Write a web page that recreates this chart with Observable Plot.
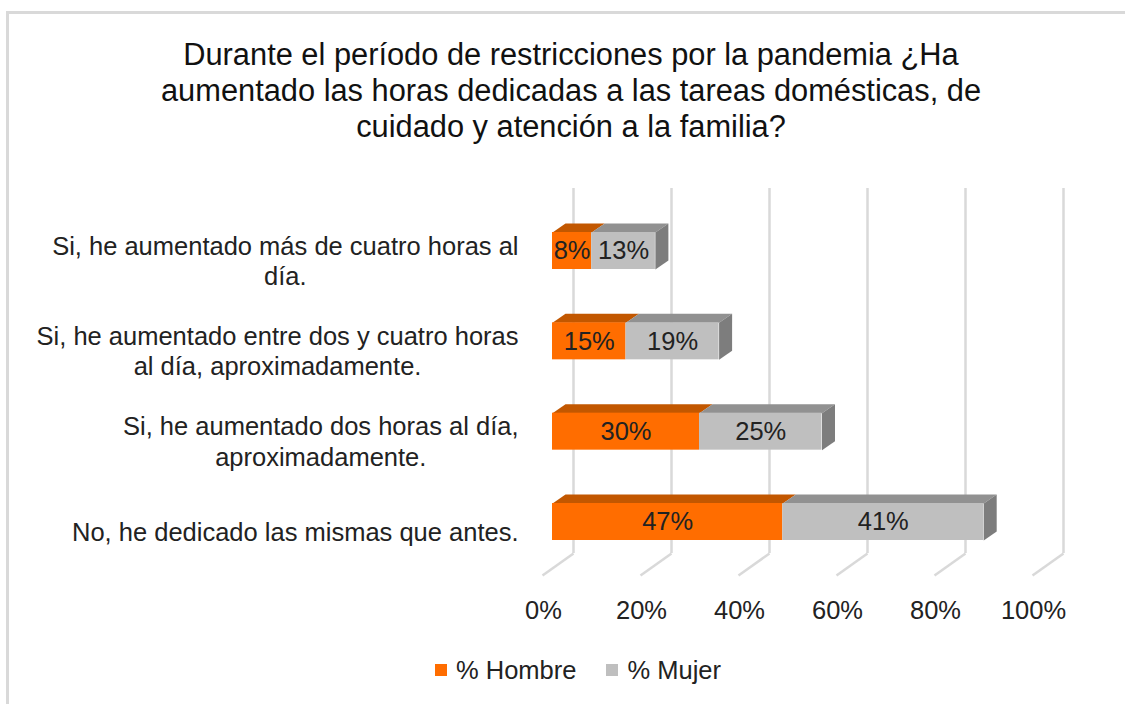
<!DOCTYPE html>
<html>
<head>
<meta charset="utf-8">
<script src="https://cdn.jsdelivr.net/npm/d3@7"></script>
<script src="https://cdn.jsdelivr.net/npm/@observablehq/plot@0.6"></script>
<style>
html, body { margin: 0; padding: 0; background: #fff; overflow: hidden; width: 1125px; height: 704px; }
#wrap { position: relative; width: 1125px; height: 704px; font-family: "Liberation Sans", Arial, sans-serif; color: #222; }
#border { position: absolute; left: 6px; top: 11px; width: 1200px; height: 800px; border-left: 3px solid #d9d9d9; border-top: 3px solid #d9d9d9; }
#chart { position: absolute; left: 0; top: 0; }
#title { position: absolute; left: 0; width: 1142px; top: 37px; text-align: center; font-size: 30.8px; line-height: 36px; color: #111; }
#legend { position: absolute; left: 435px; top: 655px; display: flex; align-items: center; font-size: 25.5px; line-height: 30px; }
#legend .item { display: flex; align-items: center; margin-right: 30px; }
#legend .sw { width: 12px; height: 12px; margin-right: 9px; }
</style>
</head>
<body>
<div id="wrap">
  <div id="border"></div>
  <div id="chart"></div>
  <div id="title">Durante el período de restricciones por la pandemia ¿Ha<br>aumentado las horas dedicadas a las tareas domésticas, de<br>cuidado y atención a la familia?</div>
  <div id="legend"></div>
</div>
<script>
// ---- data ----
const categories = [
  "Si, he aumentado más de cuatro horas al\ndía.",
  "Si, he aumentado entre dos y cuatro horas\nal día, aproximadamente.",
  "Si, he aumentado dos horas al día,\naproximadamente.",
  "No, he dedicado las mismas que antes."
];
const series = ["% Hombre", "% Mujer"];
const hombre = [0.08, 0.15, 0.30, 0.47];
const mujer = [0.13, 0.19, 0.25, 0.41];
const xTicks = [0, 0.2, 0.4, 0.6, 0.8, 1];

// ---- style ----
const frontColors = ["#FF6D00", "#BFBFBF"];
const topColors = ["#C25700", "#919191"];
const sideColors = ["#A04800", "#7D7D7D"];
const gridColor = "#d9d9d9";
const textColor = "#222";
const FS = 25.5;

// ---- geometry (pixel frame) ----
const X0 = 552, X1 = 1042, Y0 = 250.5, Y3 = 521.5;
const KX = (X1 - X0) / 1, KY = (Y3 - Y0) / 3;
const dxU = px => px / KX;
const dyU = px => px / KY;
const yAt = py => (py - Y0) / KY;
const HY = dyU(18.5);       // half bar height
const DX = dxU(13), DY = dyU(9); // bar depth
const values = [hombre, mujer];

const segs = [];
categories.forEach((c, i) => {
  let cum = 0;
  values.forEach((arr, s) => {
    const v = arr[i];
    segs.push({i, s, x1: cum, x2: cum + v, v});
    cum += v;
  });
});

const topVerts = [];
const sideVerts = [];
segs.forEach((d, k) => {
  const t = d.i - HY, b = d.i + HY;
  [[d.x1, t], [d.x2, t], [d.x2 + DX, t - DY], [d.x1 + DX, t - DY]]
    .forEach(([x, y]) => topVerts.push({k, s: d.s, x, y}));
  if (d.s === series.length - 1) {
    [[d.x2, t], [d.x2 + DX, t - DY], [d.x2 + DX, b - DY], [d.x2, b]]
      .forEach(([x, y]) => sideVerts.push({k, s: d.s, x, y}));
  }
});

const ctx = document.createElement("canvas").getContext("2d");
ctx.font = FS + "px 'Liberation Sans', Arial, sans-serif";
const labelRows = categories.map((c, i) => {
  const w = d3.max(c.split("\n"), l => ctx.measureText(l).width);
  return {i, text: c, cx: (518 - w / 2 - X0) / KX};
});

const marks = [
  Plot.ruleX(xTicks, {x: d => d, y1: yAt(188), y2: yAt(553), dx: 21, stroke: gridColor, strokeWidth: 2.5}),
  Plot.link(xTicks, {x1: d => d + dxU(21), y1: yAt(553), x2: d => d - dxU(10), y2: yAt(575), stroke: gridColor, strokeWidth: 2.5}),
];
series.forEach((name, s) => {
  marks.push(Plot.line(topVerts.filter(v => v.s === s), {x: "x", y: "y", z: "k", fill: topColors[s], stroke: "none", curve: "linear"}));
  marks.push(Plot.line(sideVerts.filter(v => v.s === s), {x: "x", y: "y", z: "k", fill: sideColors[s], stroke: "none", curve: "linear"}));
  marks.push(Plot.rect(segs.filter(d => d.s === s), {x1: "x1", x2: "x2", y1: d => d.i - HY, y2: d => d.i + HY, fill: frontColors[s]}));
});
marks.push(Plot.text(segs, {x: d => (d.x1 + d.x2) / 2, y: "i", text: d => Math.round(d.v * 100) + "%", fill: textColor, fontSize: FS}));
marks.push(Plot.text(labelRows, {x: "cx", y: "i", text: "text", textAnchor: "middle", lineHeight: 1.2, dy: 9, fill: textColor, fontSize: FS}));
marks.push(Plot.axisX(xTicks, {tickSize: 0, tickPadding: 25, dx: -9, tickFormat: d => Math.round(d * 100) + "%", label: null, fontSize: FS, fill: textColor}));

const chart = Plot.plot({
  width: 1125,
  height: 704,
  marginTop: 0, marginLeft: 0, marginRight: 0, marginBottom: 704 - 575,
  x: {domain: [0, 1], range: [X0, X1]},
  y: {domain: [0, 3], range: [Y0, Y3], axis: null},
  style: {fontFamily: "'Liberation Sans', Arial, sans-serif", fontSize: FS + "px", color: textColor, background: "transparent", overflow: "visible"},
  marks
});
document.getElementById("chart").appendChild(chart);

const legend = document.getElementById("legend");
series.forEach((name, s) => {
  const item = document.createElement("div");
  item.className = "item";
  const sw = document.createElement("div");
  sw.className = "sw";
  sw.style.background = frontColors[s];
  const tx = document.createElement("span");
  tx.textContent = name;
  item.appendChild(sw); item.appendChild(tx);
  legend.appendChild(item);
});
</script>
</body>
</html>
